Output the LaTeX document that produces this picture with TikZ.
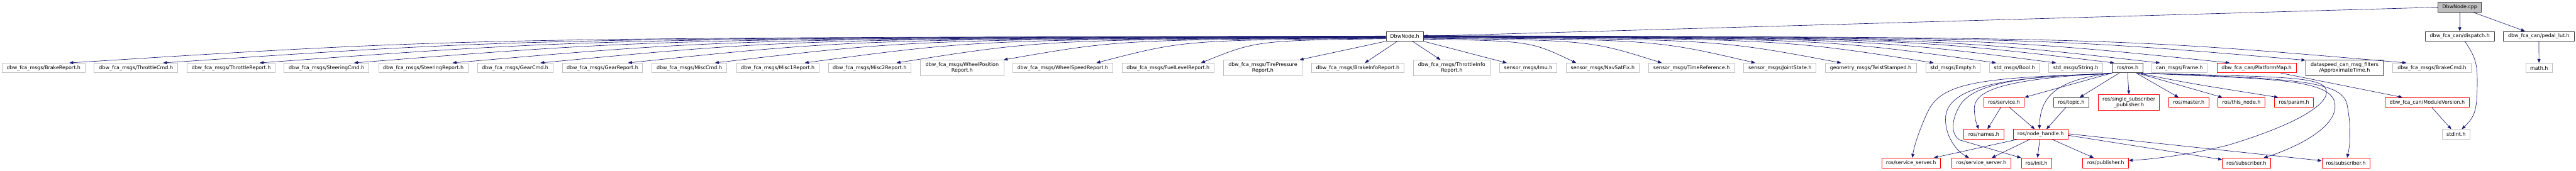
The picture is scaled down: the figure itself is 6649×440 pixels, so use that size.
\documentclass[tikz,border=0pt]{standalone}
\usepackage{fontspec}
\setmainfont{DejaVu Sans}
\usetikzlibrary{arrows.meta,calc}
\definecolor{edgec}{HTML}{191970}
\definecolor{grayb}{HTML}{BFBFBF}
\definecolor{redb}{HTML}{FF0000}
\definecolor{blackb}{HTML}{404040}
\definecolor{cppfill}{HTML}{BFBFBF}
\tikzset{
 box/.style={draw, fill=white, inner sep=0pt, align=center, font=\fontsize{9.7}{11.25}\selectfont, line width=0.9pt},
 gbox/.style={box, draw=grayb},
 rbox/.style={box, draw=redb},
 kbox/.style={box, draw=blackb},
 cbox/.style={box, draw=blackb, fill=cppfill},
 edge/.style={draw=edgec, line width=0.8pt, -{Triangle[length=7.5pt,width=6pt]}},
}
\newcommand{\mkbox}[7]{%
 \pgfmathsetmacro{\mkbw}{(#4-#2)*0.75}%
 \pgfmathsetmacro{\mkbh}{(#5-#3)*0.75}%
 \pgfmathsetmacro{\mkbx}{(#2+#4)/2}%
 \pgfmathsetmacro{\mkby}{(#3+#5)/2}%
 \node[#6, minimum width=\mkbw pt, minimum height=\mkbh pt] (#1) at (\mkbx,\mkby) {#7};}
\begin{document}
\begin{tikzpicture}[x=0.75pt,y=-0.75pt]
\fill[white] (0,0) rectangle (6649,440);
\useasboundingbox (0,0) rectangle (6649,440);
% row 1
\mkbox{cpp}{6293}{5.7}{6405}{31.7}{cbox}{DbwNode.cpp}
% row 2
\mkbox{dbwh}{3577.5}{81}{3674}{106}{kbox}{DbwNode.h}
\mkbox{dispatch}{6260}{81}{6438}{106}{kbox}{dbw\_fca\_can/dispatch.h}
\mkbox{pedal}{6461}{81}{6645}{106}{kbox}{dbw\_fca\_can/pedal\_lut.h}
% row 3
\mkbox{brakerep}{5}{163}{220}{188}{gbox}{dbw\_fca\_msgs/BrakeReport.h}
\mkbox{throtcmd}{243}{163}{459}{188}{gbox}{dbw\_fca\_msgs/ThrottleCmd.h}
\mkbox{throtrep}{483}{163}{710}{188}{gbox}{dbw\_fca\_msgs/ThrottleReport.h}
\mkbox{steercmd}{733}{163}{952.5}{188}{gbox}{dbw\_fca\_msgs/SteeringCmd.h}
\mkbox{steerrep}{977}{163}{1208}{188}{gbox}{dbw\_fca\_msgs/SteeringReport.h}
\mkbox{gearcmd}{1232.5}{163}{1427}{188}{gbox}{dbw\_fca\_msgs/GearCmd.h}
\mkbox{gearrep}{1452}{163}{1658}{188}{gbox}{dbw\_fca\_msgs/GearReport.h}
\mkbox{misccmd}{1682.5}{163}{1876}{188}{gbox}{dbw\_fca\_msgs/MiscCmd.h}
\mkbox{miscone}{1901}{163}{2114}{188}{gbox}{dbw\_fca\_msgs/Misc1Report.h}
\mkbox{misctwo}{2138}{163}{2351}{188}{gbox}{dbw\_fca\_msgs/Misc2Report.h}
\mkbox{wheelpos}{2376}{155}{2591}{195}{gbox}{dbw\_fca\_msgs/WheelPosition\\Report.h}
\mkbox{wheelspd}{2614}{163}{2872}{188}{gbox}{dbw\_fca\_msgs/WheelSpeedReport.h}
\mkbox{fuel}{2896}{163}{3134}{188}{gbox}{dbw\_fca\_msgs/FuelLevelReport.h}
\mkbox{tire}{3158}{155}{3361}{195}{gbox}{dbw\_fca\_msgs/TirePressure\\Report.h}
\mkbox{brakeinfo}{3385}{163}{3624}{188}{gbox}{dbw\_fca\_msgs/BrakeInfoReport.h}
\mkbox{throtinfo}{3648}{155}{3846}{195}{gbox}{dbw\_fca\_msgs/ThrottleInfo\\Report.h}
\mkbox{imu}{3870}{163}{4019}{188}{gbox}{sensor\_msgs/Imu.h}
\mkbox{navsat}{4042.5}{163}{4231}{188}{gbox}{sensor\_msgs/NavSatFix.h}
\mkbox{timeref}{4255}{163}{4477}{188}{gbox}{sensor\_msgs/TimeReference.h}
\mkbox{joint}{4501}{163}{4687.5}{188}{gbox}{sensor\_msgs/JointState.h}
\mkbox{twist}{4711}{163}{4946}{188}{gbox}{geometry\_msgs/TwistStamped.h}
\mkbox{empty}{4971}{163}{5111}{188}{gbox}{std\_msgs/Empty.h}
\mkbox{bool}{5135}{163}{5264}{188}{gbox}{std\_msgs/Bool.h}
\mkbox{string}{5288}{163}{5427.5}{188}{gbox}{std\_msgs/String.h}
\mkbox{rosh}{5452}{163}{5531}{188}{kbox}{ros/ros.h}
\mkbox{frame}{5554}{163}{5697}{188}{gbox}{can\_msgs/Frame.h}
\mkbox{platmap}{5722}{163}{5927}{188}{rbox}{dbw\_fca\_can/PlatformMap.h}
\mkbox{approx}{5952}{155}{6151}{195}{kbox}{dataspeed\_can\_msg\_filters\\/ApproximateTime.h}
\mkbox{brakecmd}{6175.5}{163}{6379}{188}{gbox}{dbw\_fca\_msgs/BrakeCmd.h}
\mkbox{math}{6519}{163}{6588}{188}{gbox}{math.h}
% row 4
\mkbox{service}{5120}{252}{5225}{277}{rbox}{ros/service.h}
\mkbox{topic}{5301}{252}{5391}{277}{kbox}{ros/topic.h}
\mkbox{ssp}{5416}{244}{5574}{284}{rbox}{ros/single\_subscriber\\\_publisher.h}
\mkbox{master}{5598}{252}{5701}{277}{rbox}{ros/master.h}
\mkbox{thisnode}{5725}{252}{5846}{277}{rbox}{ros/this\_node.h}
\mkbox{param}{5871}{252}{5971}{277}{rbox}{ros/param.h}
\mkbox{modver}{6156}{252}{6374}{277}{rbox}{dbw\_fca\_can/ModuleVersion.h}
% row 5
\mkbox{names}{5069}{334}{5172}{359}{rbox}{ros/names.h}
\mkbox{nh}{5196}{334}{5338}{359}{rbox}{ros/node\_handle.h}
\mkbox{stdint}{6304}{334}{6375}{359}{gbox}{stdint.h}
% row 6
\mkbox{svl}{4857}{408}{5008}{434}{rbox}{ros/service\_server.h}
\mkbox{svs}{5038}{408}{5190}{434}{rbox}{ros/service\_server.h}
\mkbox{init}{5217}{408}{5296}{434}{rbox}{ros/init.h}
\mkbox{pub}{5376}{408}{5494}{434}{rbox}{ros/publisher.h}
\mkbox{sub}{5736}{408}{5860}{434}{rbox}{ros/subscriber.h}
\mkbox{subr}{5993}{408}{6117}{434}{rbox}{ros/subscriber.h}
% ---- edges from DbwNode.cpp
\draw[edge] (cpp.west) -- (dbwh.east);
\draw[edge] (cpp.south) -- (dispatch.north);
\draw[edge] ($(cpp.south)+(36,0)$) -- ($(pedal.north)+(-36,0)$);
\draw[edge] (pedal.south) -- (math.north);
\draw[edge] ($(dispatch.south)+(13,0)$) .. controls (6392,150) and (6394,170) .. (6394,210) .. controls (6394,280) and (6390,300) .. ($(stdint.north)+(14.5,0)$);
\draw[edge] ($(modver.south)+(12,0)$) -- ($(stdint.north)+(-12.5,0)$);
\draw[edge] ($(platmap.south)+(62.5,0)$) -- ($(modver.north)+(-64,0)$);
% ---- edges from DbwNode.h (left)
\draw[edge] ($(dbwh.west)+(0,-0.5)$) .. controls (1198,98) .. ($(brakerep.north)+(66.5,0)$);
\draw[edge] ($(dbwh.west)+(0,0)$) .. controls (1368,98.5) .. ($(throtcmd.north)+(70,0)$);
\draw[edge] ($(dbwh.west)+(0,0.5)$) .. controls (1542,99) .. ($(throtrep.north)+(73.5,0)$);
\draw[edge] ($(dbwh.west)+(0,1)$) .. controls (1713,99.5) .. ($(steercmd.north)+(71,0)$);
\draw[edge] ($(dbwh.west)+(0,1.5)$) .. controls (1891,100) .. ($(steerrep.north)+(75.5,0)$);
\draw[edge] ($(dbwh.west)+(0,2)$) .. controls (2050,100.5) .. ($(gearcmd.north)+(65,0)$);
\draw[edge] ($(dbwh.west)+(0,2.5)$) .. controls (2208,101) .. ($(gearrep.north)+(66,0)$);
\draw[edge] ($(dbwh.west)+(0,3)$) .. controls (2365,101.5) .. ($(misccmd.north)+(66,0)$);
\draw[edge] ($(dbwh.west)+(0,3.5)$) .. controls (2527,102) .. ($(miscone.north)+(69.5,0)$);
\draw[edge] ($(dbwh.west)+(0,4)$) .. controls (2693,102.5) .. ($(misctwo.north)+(69.5,0)$);
\draw[edge] ($(dbwh.west)+(0,4.5)$) .. controls (2886,103) .. ($(wheelpos.north east)+(-1,0)$);
\draw[edge] ($(dbwh.west)+(0,5.5)$) .. controls (3054,104) .. ($(wheelspd.north)+(87,0)$);
\draw[edge] ($(dbwh.west)+(0,6.5)$) .. controls (3243,105) .. ($(fuel.north)+(85,0)$);
\draw[edge] (dbwh.south west) -- ($(tire.north east)+(-7,0)$);
\draw[edge] ($(dbwh.south west)+(30,0)$) -- ($(brakeinfo.north)+(18.5,0)$);
\draw[edge] ($(dbwh.south east)+(-29,0)$) -- ($(throtinfo.north)+(-29,0)$);
% ---- edges from DbwNode.h (right)
\draw[edge] (dbwh.south east) -- ($(imu.north)+(-55.5,0)$);
\draw[edge] ($(dbwh.east)+(0,7.5)$) .. controls (3950,106) .. ($(navsat.north)+(-68.75,0)$);
\draw[edge] ($(dbwh.east)+(0,5.5)$) .. controls (4104,104) .. ($(timeref.north)+(-77,0)$);
\draw[edge] ($(dbwh.east)+(0,4)$) .. controls (4273,102.5) .. ($(joint.north)+(-64,0)$);
\draw[edge] ($(dbwh.east)+(0,3)$) .. controls (4429,101.5) .. ($(twist.north)+(-76.5,0)$);
\draw[edge] ($(dbwh.east)+(0,2)$) .. controls (4596,100.5) .. ($(empty.north)+(-50,0)$);
\draw[edge] ($(dbwh.east)+(0,1.5)$) .. controls (4709,100) .. ($(bool.north)+(-47.5,0)$);
\draw[edge] ($(dbwh.east)+(0,1)$) .. controls (4817,99.5) .. ($(string.north)+(-50.75,0)$);
\draw[edge] ($(dbwh.east)+(0,0.5)$) .. controls (4922,99) .. ($(rosh.north)+(-34.5,0)$);
\draw[edge] ($(dbwh.east)+(0,0)$) .. controls (5005,98.5) .. ($(frame.north)+(-50.5,0)$);
\draw[edge] ($(dbwh.east)+(0,-0.5)$) .. controls (5131,98) .. ($(platmap.north)+(-69.5,0)$);
\draw[edge] ($(dbwh.east)+(0,-1)$) .. controls (5269,97.5) .. ($(approx.north west)+(-1,1)$);
\draw[edge] ($(dbwh.east)+(0,-1.5)$) .. controls (5450,97) .. ($(brakecmd.north)+(-66,0)$);
% ---- edges from ros/ros.h
\draw[edge] (rosh.south west) -- (service.north east);
\draw[edge] ($(rosh.south)+(-21.5,0)$) -- ($(topic.north)+(22,0)$);
\draw[edge] (rosh.south) -- (ssp.north);
\draw[edge] ($(rosh.south)+(22.5,0)$) -- ($(master.north)+(-26.5,0)$);
\draw[edge] ($(rosh.south)+(24.5,0)$) -- ($(thisnode.north)+(-49.5,0)$);
\draw[edge] ($(rosh.south)+(26.5,0)$) .. controls (5650,215) .. ($(param.north)+(-41,0)$);
\draw[edge] ($(rosh.south west)+(-2,0)$) .. controls (5160,205) and (5092,235) .. (5096,285) .. controls (5098,315) and (5104,325) .. ($(names.north)+(-13.5,0)$);
\draw[edge] (rosh.south west) .. controls (5320,205) and (5266,240) .. ($(nh.north)+(-3,0)$);
\draw[edge] ($(rosh.south west)+(-5,2)$) .. controls (5100,200) and (5010,215) .. (4975,290) .. controls (4952,340) and (4940,380) .. ($(svl.north)+(3.5,0)$);
\draw[edge] ($(rosh.south west)+(-5,2)$) .. controls (5150,198) and (5030,230) .. (5022,300) .. controls (5018,350) and (5050,390) .. ($(svs.north)+(-32,0)$);
\draw[edge] ($(rosh.south west)+(-5,2)$) .. controls (5250,195) and (5100,210) .. (5060,270) .. controls (5035,310) and (5035,350) .. (5060,362) -- (init.north west);
\draw[edge] ($(rosh.south east)+(-5,0)$) .. controls (5900,200) and (6008,195) .. (6005,240) .. controls (6000,280) and (5900,330) .. (5750,375) .. controls (5650,400) and (5550,412) .. ($(pub.east)+(0,-7)$);
\draw[edge] ($(rosh.south east)+(-5,0)$) .. controls (5850,205) and (6030,200) .. (6027,275) .. controls (6027,330) and (5930,380) .. ($(sub.north)+(45,0)$);
\draw[edge] ($(rosh.south east)+(-5,0)$) .. controls (5900,203) and (6045,205) .. (6058,270) .. controls (6070,330) and (6065,380) .. ($(subr.north)+(3,0)$);
% ---- service / topic
\draw[edge] ($(service.south)+(-8.5,0)$) -- ($(names.north)+(9.5,0)$);
\draw[edge] ($(service.south)+(14.5,0)$) -- ($(nh.north)+(-15,0)$);
\draw[edge] ($(topic.south)+(-14,0)$) -- ($(nh.north)+(15,0)$);
% ---- node_handle
\draw[edge] ($(nh.south west)+(13,0)$) -- ($(svl.north east)+(-17,0)$);
\draw[edge] ($(nh.south)+(-27,0)$) -- ($(svs.north)+(27,0)$);
\draw[edge] ($(nh.south)+(-2,0)$) -- ($(init.north)+(2.5,0)$);
\draw[edge] ($(nh.south)+(29,0)$) -- ($(pub.north)+(-31,0)$);
\draw[edge] ($(nh.east)+(0,3)$) -- ($(sub.west)+(0,-9)$);
\draw[edge] ($(nh.east)+(0,-1)$) -- ($(subr.west)+(0,-6)$);
\end{tikzpicture}
\end{document}
